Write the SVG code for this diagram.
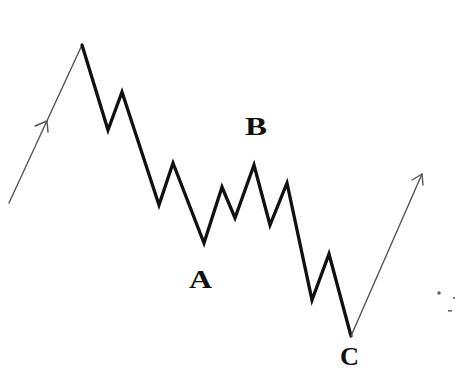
<svg xmlns="http://www.w3.org/2000/svg" width="460" height="372" viewBox="0 0 460 372">
<style>
.wave{fill:none;stroke:#111;stroke-width:3.3;stroke-linejoin:miter;stroke-miterlimit:10;stroke-linecap:round}
.thin{fill:none;stroke:#555;stroke-width:1.4;stroke-linecap:round;stroke-linejoin:round}
.lbl{font-family:"Liberation Serif","Times New Roman",serif;font-weight:bold;font-size:26px;fill:#111}
.dot{fill:#666}
</style>
<rect width="460" height="372" fill="#fff"/>
<g id="connectors">
<path class="thin" d="M9,203 L82,45"/>
<path class="thin" d="M35,126 L47,121 L48,132"/>
<path class="wave" d="M82,45 L108,130 L122,92 L159,205 L173,163 L204,243 L222,187 L235,218 L254,165 L270,225 L287,183 L312,300 L329,254 L351,336"/>
<path class="thin" d="M351,336 L422,174"/>
<path class="thin" d="M412,180 L422,174 L423,185"/>
</g>
<g id="label-A"><text class="lbl" x="189" y="288" textLength="23" lengthAdjust="spacingAndGlyphs">A</text></g>
<g id="label-B"><text class="lbl" x="245" y="135" textLength="22" lengthAdjust="spacingAndGlyphs">B</text></g>
<g id="label-C"><text class="lbl" x="340" y="365" textLength="19" lengthAdjust="spacingAndGlyphs">C</text></g>
<g id="specks">
<circle class="dot" cx="439" cy="293" r="1.8"/>
<circle class="dot" cx="454" cy="298" r="1.1"/>
<rect class="dot" x="448" y="310" width="4" height="1.6"/>
</g>
</svg>
